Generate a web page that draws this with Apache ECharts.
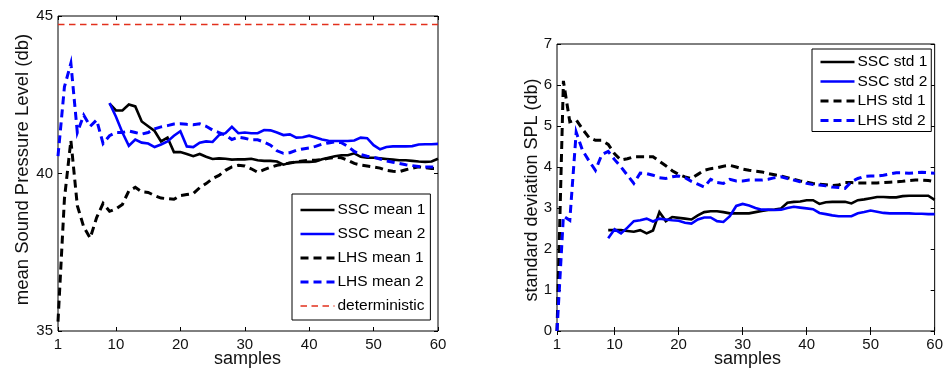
<!DOCTYPE html>
<html><head><meta charset="utf-8">
<script src="https://cdn.jsdelivr.net/npm/echarts@6/dist/echarts.min.js"></script>
<style>html,body{margin:0;padding:0;background:#fff}#c{width:946px;height:371px}</style>
</head><body><div id="c"></div>
<script>
// ---------- data ----------
const samples = [1,2,3,4,5,6,7,8,9,10,11,12,13,14,15,16,17,18,19,20,21,22,23,24,25,26,27,28,29,30,
  31,32,33,34,35,36,37,38,39,40,41,42,43,44,45,46,47,48,49,50,51,52,53,54,55,56,57,58,59,60];
const xTicks = [1,10,20,30,40,50,60];
const meanTicks = [35,40,45];
const stdTicks = [0,1,2,3,4,5,6,7];

const sscMean1 = [null,null,null,null,null,null,null,null,
  42.22,42.0,42.0,42.19,42.13,41.65,41.5,41.35,41.02,41.14,
  40.68,40.68,40.62,40.55,40.62,40.53,40.46,40.48,40.47,40.44,
  40.45,40.45,40.47,40.42,40.40,40.40,40.38,40.28,40.34,40.36,
  40.37,40.37,40.38,40.45,40.50,40.55,40.58,40.58,40.64,40.53,
  40.50,40.50,40.48,40.46,40.44,40.42,40.42,40.40,40.38,40.37,
  40.38,40.47];
const sscMean2 = [null,null,null,null,null,null,null,null,
  42.24,41.8,41.3,40.88,41.08,40.98,40.95,40.84,40.92,41.02,
  41.2,41.34,40.86,40.84,40.98,41.02,41.0,41.22,41.28,41.48,
  41.28,41.3,41.28,41.28,41.38,41.37,41.3,41.22,41.24,41.14,
  41.15,41.2,41.14,41.08,41.04,41.03,41.03,41.03,41.05,41.14,
  41.12,40.9,40.77,40.84,40.86,40.86,40.86,40.87,40.92,40.93,
  40.93,40.94];
const lhsMean1 = [35.3,39.2,41.05,38.98,38.3,37.95,38.6,39.05,38.8,38.88,
  39.02,39.45,39.56,39.42,39.4,39.3,39.22,39.2,39.18,39.3,
  39.33,39.36,39.55,39.68,39.84,39.94,40.1,40.21,40.26,40.24,
  40.15,40.04,40.12,40.2,40.26,40.3,40.33,40.37,40.4,40.42,
  40.42,40.45,40.48,40.51,40.5,40.42,40.32,40.27,40.24,40.21,
  40.17,40.1,40.07,40.06,40.12,40.17,40.21,40.19,40.16,40.16];
const lhsMean2 = [40.55,42.75,43.5,41.3,41.85,41.5,41.7,40.95,41.2,41.3,
  41.3,41.35,41.3,41.25,41.3,41.42,41.48,41.52,41.57,41.58,
  41.56,41.55,41.58,41.5,41.38,41.3,41.22,41.08,41.15,41.12,
  41.07,41.07,41.0,40.9,40.72,40.64,40.66,40.74,40.78,40.81,
  40.86,40.93,40.97,41.0,40.98,40.86,40.7,40.6,40.55,40.52,
  40.46,40.4,40.36,40.32,40.28,40.25,40.22,40.21,40.21,40.21];
const deterministicLevel = 44.73;

const sscStd1 = [null,null,null,null,null,null,null,null,
  2.46,2.46,2.46,2.44,2.42,2.46,2.38,2.45,2.9,2.68,
  2.78,2.76,2.74,2.72,2.82,2.9,2.92,2.92,2.9,2.87,
  2.87,2.87,2.87,2.9,2.93,2.95,2.96,2.99,3.13,3.15,
  3.16,3.19,3.19,3.1,3.14,3.15,3.15,3.15,3.11,3.19,
  3.21,3.24,3.27,3.27,3.26,3.26,3.29,3.3,3.3,3.3,
  3.3,3.2];
const sscStd2 = [null,null,null,null,null,null,null,null,
  2.26,2.48,2.38,2.52,2.68,2.7,2.74,2.67,2.74,2.72,
  2.7,2.69,2.64,2.62,2.72,2.77,2.77,2.68,2.66,2.8,
  3.05,3.1,3.06,3.0,2.96,2.96,2.95,2.96,3.0,3.03,
  3.01,2.99,2.97,2.88,2.85,2.82,2.8,2.8,2.8,2.87,
  2.9,2.94,2.91,2.88,2.87,2.87,2.87,2.87,2.86,2.86,
  2.85,2.85];
const lhsStd1 = [0,6.1,5.1,5.15,4.92,4.72,4.65,4.65,4.55,4.32,
  4.17,4.2,4.25,4.25,4.25,4.25,4.14,4.03,3.91,3.82,
  3.76,3.72,3.82,3.92,3.96,3.98,4.02,4.04,4.0,3.95,
  3.92,3.9,3.88,3.84,3.81,3.78,3.74,3.7,3.66,3.63,
  3.6,3.58,3.57,3.55,3.56,3.62,3.62,3.61,3.61,3.61,
  3.61,3.62,3.63,3.64,3.65,3.67,3.68,3.68,3.67,3.64];
const lhsStd2 = [0,2.8,2.7,4.85,4.4,4.15,3.92,4.3,4.38,4.18,
  4.0,3.8,3.6,3.85,3.84,3.8,3.74,3.72,3.76,3.78,
  3.74,3.65,3.58,3.51,3.7,3.62,3.6,3.7,3.66,3.66,
  3.68,3.68,3.68,3.7,3.74,3.76,3.72,3.68,3.64,3.6,
  3.57,3.56,3.54,3.51,3.5,3.48,3.64,3.72,3.77,3.78,
  3.78,3.8,3.83,3.86,3.86,3.85,3.86,3.87,3.86,3.85];

// ---------- chart ----------
const FONT = '"Liberation Sans", Arial, sans-serif';
const BLACK = '#000000', BLUE = '#0000ff', RED = '#e2301c';
const DASH = [8, 5];
const SOLID_W = 2.6, DASH_W = 3, DET_W = 1.6;

function pairs(arr) {
  const out = [];
  samples.forEach((s, i) => { if (arr[i] !== null && arr[i] !== undefined) out.push([s, arr[i]]); });
  return out;
}

function xAxesFor(g) {
  return [
    { type: 'value', gridIndex: g, min: 1, max: 60, position: 'bottom',
      splitLine: { show: false }, axisLine: { show: false },
      axisTick: { show: true, inside: true, length: 4, customValues: xTicks, lineStyle: { color: BLACK, width: 1 } },
      axisLabel: { show: true, customValues: xTicks, margin: 6, fontSize: 15, color: '#111', fontFamily: FONT } },
    { type: 'value', gridIndex: g, min: 1, max: 60, position: 'top',
      splitLine: { show: false }, axisLine: { show: false },
      axisTick: { show: true, inside: true, length: 4, customValues: xTicks, lineStyle: { color: BLACK, width: 1 } },
      axisLabel: { show: false } }
  ];
}
function yAxesFor(g, min, max, ticks) {
  return [
    { type: 'value', gridIndex: g, min: min, max: max, position: 'left',
      splitLine: { show: false }, axisLine: { show: false },
      axisTick: { show: true, inside: true, length: 4, customValues: ticks, lineStyle: { color: BLACK, width: 1 } },
      axisLabel: { show: true, customValues: ticks, margin: 5, fontSize: 15, color: '#111', fontFamily: FONT } },
    { type: 'value', gridIndex: g, min: min, max: max, position: 'right',
      splitLine: { show: false }, axisLine: { show: false },
      axisTick: { show: true, inside: true, length: 4, customValues: ticks, lineStyle: { color: BLACK, width: 1 } },
      axisLabel: { show: false } }
  ];
}
function line(name, arr, color, dashed, xi, yi, width, dash) {
  return {
    name: name, type: 'line', xAxisIndex: xi, yAxisIndex: yi, data: pairs(arr),
    symbol: 'none', showSymbol: false, animation: false, silent: true,
    lineStyle: { color: color, width: width || (dashed ? DASH_W : SOLID_W), type: dashed ? (dash || DASH) : 'solid', cap: 'butt', join: 'miter' },
    itemStyle: { color: color }
  };
}
function legendItem(name, dashed, width) {
  return { name: name, lineStyle: { width: width || (dashed ? DASH_W : SOLID_W) } };
}

const chart = echarts.init(document.getElementById('c'), null, { renderer: 'canvas' });
const legendCommon = {
  orient: 'vertical', itemWidth: 34, itemHeight: 14, backgroundColor: '#fff',
  borderColor: BLACK, borderWidth: 1, borderRadius: 0,
  itemStyle: { opacity: 0, borderWidth: 0 },
  textStyle: { fontSize: 15.5, color: '#000', fontFamily: FONT, padding: [0, 0, 0, -2] },
  selectedMode: false, animation: false
};

chart.setOption({
  animation: false,
  backgroundColor: '#fff',
  grid: [
    { left: 58, top: 16, width: 380, height: 315, show: true, borderColor: BLACK, borderWidth: 1, backgroundColor: 'transparent' },
    { left: 557, top: 44, width: 381, height: 287, show: true, borderColor: BLACK, borderWidth: 1, backgroundColor: 'transparent' }
  ],
  xAxis: xAxesFor(0).concat(xAxesFor(1)),
  yAxis: yAxesFor(0, 35, 45, meanTicks).concat(yAxesFor(1, 0, 7, stdTicks)),
  legend: [
    Object.assign({}, legendCommon, {
      left: 292, top: 194, itemGap: 8, padding: [8, 5, 6, 7],
      data: [legendItem('SSC mean 1', false), legendItem('SSC mean 2', false),
             legendItem('LHS mean 1', true), legendItem('LHS mean 2', true),
             legendItem('deterministic', true, DET_W)]
    }),
    Object.assign({}, legendCommon, {
      left: 812, top: 49, itemGap: 3.5, padding: [5, 4, 3, 7],
      data: [legendItem('SSC std 1', false), legendItem('SSC std 2', false),
             legendItem('LHS std 1', true), legendItem('LHS std 2', true)]
    })
  ],
  series: [
    line('SSC mean 1', sscMean1, BLACK, false, 0, 0),
    line('SSC mean 2', sscMean2, BLUE, false, 0, 0),
    line('LHS mean 1', lhsMean1, BLACK, true, 0, 0),
    line('LHS mean 2', lhsMean2, BLUE, true, 0, 0),
    line('deterministic', samples.map(() => deterministicLevel), RED, true, 0, 0, DET_W, [6.5, 4.5]),
    line('SSC std 1', sscStd1, BLACK, false, 2, 2),
    line('SSC std 2', sscStd2, BLUE, false, 2, 2),
    line('LHS std 1', lhsStd1, BLACK, true, 2, 2),
    line('LHS std 2', lhsStd2, BLUE, true, 2, 2)
  ],
  graphic: [
    { type: 'text', x: 22.5, y: 169.5, rotation: Math.PI / 2,
      style: { text: 'mean Sound Pressure Level (db)', font: '18.5px ' + FONT, fill: '#111', textAlign: 'center', textVerticalAlign: 'middle' } },
    { type: 'text', x: 532.5, y: 190, rotation: Math.PI / 2,
      style: { text: 'standard deviation SPL (db)', font: '18px ' + FONT, fill: '#111', textAlign: 'center', textVerticalAlign: 'middle' } },
    { type: 'text', x: 247.5, y: 359,
      style: { text: 'samples', font: '18px ' + FONT, fill: '#111', textAlign: 'center', textVerticalAlign: 'middle' } },
    { type: 'text', x: 747.5, y: 359,
      style: { text: 'samples', font: '18px ' + FONT, fill: '#111', textAlign: 'center', textVerticalAlign: 'middle' } }
  ]
});
</script>
</body></html>
